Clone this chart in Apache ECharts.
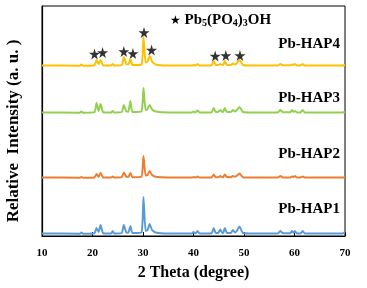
<!DOCTYPE html>
<html>
<head>
<meta charset="utf-8">
<script src="https://cdn.jsdelivr.net/npm/echarts@6/dist/echarts.min.js"></script>
<style>
html, body { margin: 0; padding: 0; background: #fff; }
#xrd-chart { width: 367px; height: 288px; }
</style>
</head>
<body>
<div id="xrd-chart"></div>
<script>
// 2 theta positions shared by all patterns
var twoTheta = [10, 17.5, 17.8, 18.1, 20.4, 20.8, 21.2, 21.6, 22.1, 23.7,
    24.0, 24.3, 25.8, 26.2, 26.7, 27.1, 27.5, 27.9, 29.7, 30.1,
    30.5, 30.9, 31.3, 31.8, 32.5, 35, 39.7, 40.0, 40.4, 40.8,
    41.2, 43.6, 44.0, 44.4, 44.9, 45.3, 45.7, 45.9, 46.2, 46.6,
    47.4, 47.8, 48.2, 48.5, 49.1, 49.8, 52, 56.7, 57.2, 57.7,
    59.2, 59.5, 59.8, 60.1, 60.4, 61.2, 61.6, 62.0, 66, 69.5, 70];

var hap1 = [0.5, 0.3, 1.5, 0.3, 0.8, 6, 2, 9, 0.8, 0.5,
    3, 0.5, 1, 9, 1.5, 1.2, 8, 1, 1.5, 37,
    3, 4, 10, 4, 1.5, 0.5, 0.5, 2, 0.5, 3,
    0.5, 0.8, 6, 1, 1, 4.5, 1, 1.2, 6, 1.2,
    1, 4, 1.5, 2.5, 7.5, 1, 0.5, 0.5, 3, 0.8,
    0.8, 3, 1.2, 3, 0.8, 0.6, 3, 0.6, 0.4, 0.5, 2];
var hap2 = [0.5, 0.3, 1, 0.3, 0.6, 4, 1.2, 5, 0.6, 0.4,
    1.5, 0.4, 0.8, 5.5, 1.2, 1, 5, 0.8, 1.2, 22,
    2.5, 3, 7, 3, 1.2, 0.5, 0.4, 1, 0.4, 1.5,
    0.4, 0.6, 3.5, 0.8, 0.8, 2, 0.8, 1, 3.5, 1,
    0.8, 2, 1.2, 2, 4.5, 0.8, 0.4, 0.4, 2, 0.6,
    0.6, 1.5, 1, 2, 0.6, 0.5, 1.5, 0.5, 0.4, 0.4, 1];
var hap3 = [0.5, 0.3, 1.5, 0.3, 0.8, 10, 2, 9, 0.8, 0.5,
    2, 0.5, 1, 8, 1.5, 1.2, 12, 1, 1.5, 25,
    3, 4, 8, 3.5, 1.5, 0.5, 0.5, 1.5, 0.5, 2.5,
    0.5, 0.8, 5, 1, 1, 3, 1, 1.2, 5, 1.2,
    1, 3, 1.5, 2.5, 6, 1, 0.5, 0.5, 3, 0.8,
    0.8, 3, 1.2, 2, 0.8, 0.6, 3, 0.6, 0.4, 0.5, 1];
var hap4 = [0.5, 0.3, 1.5, 0.3, 0.8, 6, 2, 6, 0.8, 0.5,
    2, 0.5, 1, 9, 2, 1.5, 7, 1, 1.5, 29,
    3.5, 4.5, 10, 4.5, 1.5, 0.5, 0.5, 1, 0.5, 2,
    0.5, 0.8, 5, 1, 1, 2, 1, 1.2, 5, 1.2,
    1, 2.5, 1.5, 2.5, 6, 1, 0.5, 0.5, 2, 0.8,
    0.8, 1.5, 1.2, 2, 0.8, 0.6, 2, 0.6, 0.4, 0.5, 1];

var names = ['Pb-HAP1', 'Pb-HAP2', 'Pb-HAP3', 'Pb-HAP4'];
var offsets = [2, 58, 123, 170];   // vertical stacking shift
var colors = ['#5B9BD5', '#ED7D31', '#92D050', '#FFC000'];

// Pb5(PO4)3OH markers above Pb-HAP4
var starX = [20.4, 22.0, 26.2, 28.0, 30.2, 31.7, 44.3, 46.4, 49.2];
var starY = [182, 183.5, 184.5, 182.5, 203.5, 186, 180, 180.5, 180.5];

var serif = '"Liberation Serif", "Times New Roman", serif';
var starPath = 'path://M50,0 L61,35 L98,35 L68,57 L79,91 L50,70 L21,91 L32,57 L2,35 L39,35 Z';

function build(vals, off) {
    var d = [];
    for (var i = 0; i < twoTheta.length; i++) {
        d.push([twoTheta[i], vals[i] + off]);
    }
    return d;
}

var patterns = [hap1, hap2, hap3, hap4];
var series = [];
for (var k = 0; k < patterns.length; k++) {
    series.push({
        name: names[k],
        type: 'line',
        data: build(patterns[k], offsets[k]),
        showSymbol: false,
        smooth: 0.15,
        lineStyle: { color: colors[k], width: 2 },
        silent: true
    });
}
series.push({
    name: 'star',
    type: 'scatter',
    data: starX.map(function (x, i) { return [x, starY[i]]; }),
    symbol: starPath,
    symbolSize: 11,
    itemStyle: { color: '#000' },
    silent: true
});

var myChart = echarts.init(document.getElementById('xrd-chart'));
var option = {
    animation: false,
    grid: {
        left: 42, right: 22, top: 6, bottom: 52,
        show: true, borderColor: '#000', borderWidth: 1
    },
    xAxis: {
        type: 'value',
        min: 10, max: 70, interval: 10,
        name: '2 Theta (degree)',
        nameLocation: 'middle',
        nameGap: 29,
        nameTextStyle: { fontFamily: serif, fontWeight: 'bold', fontSize: 16, color: '#000' },
        axisLine: { lineStyle: { color: '#000', width: 1.2 } },
        axisTick: { inside: true, length: 4, lineStyle: { color: '#000' } },
        axisLabel: { fontFamily: serif, fontWeight: 'bold', fontSize: 11, color: '#000', margin: 12 },
        splitLine: { show: false }
    },
    yAxis: {
        type: 'value',
        min: 0, max: 230,
        axisLine: { show: true, lineStyle: { color: '#000', width: 1.2 } },
        axisTick: { show: false },
        axisLabel: { show: false },
        splitLine: { show: false }
    },
    graphic: [
        {
            type: 'text', x: 14, y: 131, rotation: Math.PI / 2,
            style: {
                text: 'Relative  Intensity (a. u. )',
                font: 'bold 17px ' + serif,
                fill: '#000',
                align: 'center',
                verticalAlign: 'middle'
            }
        },
        {
            type: 'text', left: 170, top: 13,
            style: {
                text: '{s|★} Pb{sub|5}(PO{sub|4}){sub|3}OH',
                font: 'bold 15px ' + serif,
                fill: '#000',
                rich: {
                    s: { fontSize: 12, fontFamily: 'DejaVu Sans', fill: '#000' },
                    sub: { fontSize: 10, fontWeight: 'bold', fontFamily: serif, fill: '#000', verticalAlign: 'bottom', padding: [6, 0, 0, 0] }
                }
            }
        },
        { type: 'text', right: 27, top: 37, style: { text: 'Pb-HAP4', font: 'bold 15px ' + serif, fill: '#000' } },
        { type: 'text', right: 27, top: 91, style: { text: 'Pb-HAP3', font: 'bold 15px ' + serif, fill: '#000' } },
        { type: 'text', right: 27, top: 147, style: { text: 'Pb-HAP2', font: 'bold 15px ' + serif, fill: '#000' } },
        { type: 'text', right: 27, top: 202, style: { text: 'Pb-HAP1', font: 'bold 15px ' + serif, fill: '#000' } }
    ],
    series: series
};
myChart.setOption(option);
</script>
</body>
</html>
